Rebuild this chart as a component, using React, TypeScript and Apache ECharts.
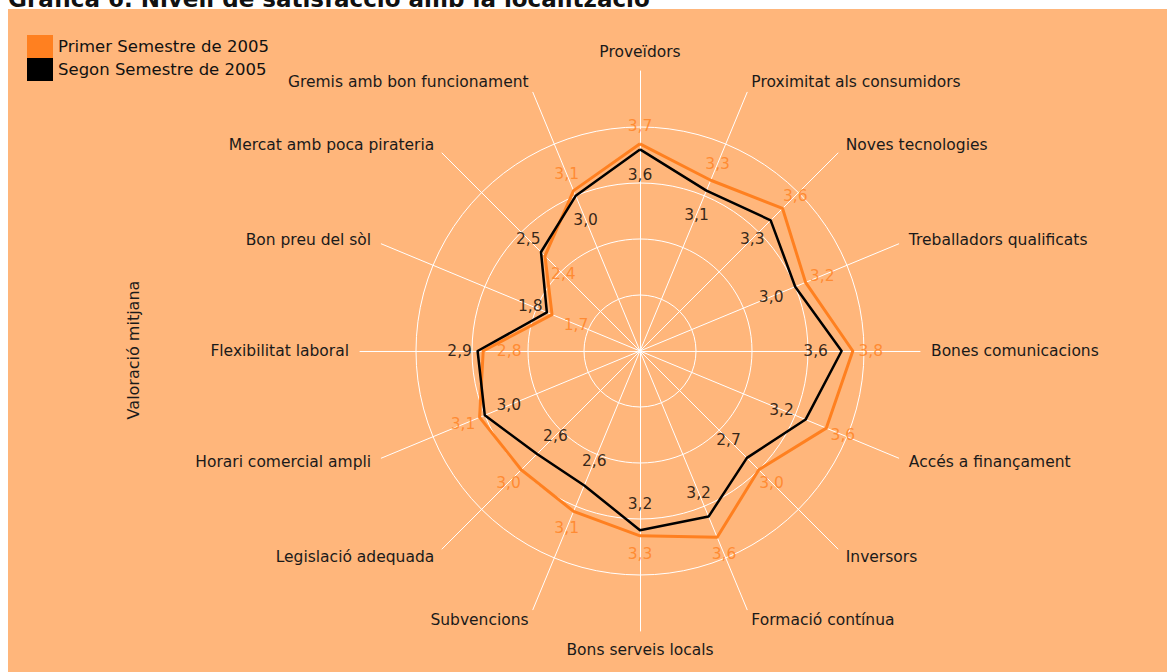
import React, { useEffect, useRef } from 'react';
import * as echarts from 'echarts';

const categories = [
  'Proveïdors',
  'Proximitat als consumidors',
  'Noves tecnologies',
  'Treballadors qualificats',
  'Bones comunicacions',
  'Accés a finançament',
  'Inversors',
  'Formació contínua',
  'Bons serveis locals',
  'Subvencions',
  'Legislació adequada',
  'Horari comercial ampli',
  'Flexibilitat laboral',
  'Bon preu del sòl',
  'Mercat amb poca pirateria',
  'Gremis amb bon funcionament',
];
const primer = [3.7, 3.3, 3.6, 3.2, 3.8, 3.6, 3.0, 3.6, 3.3, 3.1, 3.0, 3.1, 2.8, 1.7, 2.4, 3.1];
const segon = [3.6, 3.1, 3.3, 3.0, 3.6, 3.2, 2.7, 3.2, 3.2, 2.6, 2.6, 3.0, 2.9, 1.8, 2.5, 3.0];
const seriesNames = ['Primer Semestre de 2005', 'Segon Semestre de 2005'];
const titleText = 'Gràfica 6. Nivell de satisfacció amb la localització';
const axisTitle = 'Valoració mitjana';

const ORANGE = '#FF8020';
const BLACK = '#000000';
const BG = '#FFB67B';
const FONT = 'DejaVu Sans';

export default function App() {
  const ref = useRef<HTMLDivElement>(null);
  useEffect(() => {
    if (!ref.current) return;
    const chart = echarts.init(ref.current, null, { renderer: 'svg' });
    const n = categories.length;
    // radar draws counter-clockwise; the picture reads clockwise
    const ccw = categories.map((_, i) => (n - i) % n);
    const step = 360 / n;
    const fmt = (v: number) => v.toFixed(1).replace('.', ',');

    const labelSeries = (vals: number[], other: number[], color: string, name: string) => ({
      type: 'scatter',
      name: name + ' etiquetes',
      coordinateSystem: 'polar',
      symbolSize: 1,
      itemStyle: { color: 'rgba(0,0,0,0)' },
      silent: true,
      z: 5,
      label: {
        show: true,
        position: 'inside',
        color,
        fontSize: 15.5,
        fontFamily: FONT,
        formatter: (p: any) => fmt(p.value[0]),
      },
      data: vals.map((v, i) => {
        const th = (i * step * Math.PI) / 180;
        const d = v >= other[i] ? 18 : -26;
        return {
          value: [v, i * step],
          label: { offset: [Math.sin(th) * d, -Math.cos(th) * d] },
        };
      }),
    });

    chart.setOption({
      animation: false,
      backgroundColor: '#ffffff',
      graphic: [
        {
          type: 'text',
          x: 8,
          y: -1,
          z: -20,
          style: {
            text: titleText,
            fontSize: 23,
            fontWeight: 'bold',
            fontFamily: FONT,
            fill: '#111',
            verticalAlign: 'middle',
            align: 'left',
          },
        },
        {
          type: 'rect',
          z: -10,
          shape: { x: 8, y: 9, width: 1159, height: 663 },
          style: { fill: BG },
        },
        {
          type: 'text',
          x: 133,
          y: 350,
          rotation: Math.PI / 2,
          style: {
            text: axisTitle,
            fontSize: 16,
            fontFamily: FONT,
            fill: '#1a1a1a',
            align: 'center',
            verticalAlign: 'middle',
          },
        },
      ],
      legend: {
        data: seriesNames,
        orient: 'vertical',
        left: 27,
        top: 35,
        padding: 0,
        itemWidth: 26,
        itemHeight: 23,
        itemGap: 0,
        icon: 'rect',
        textStyle: { fontSize: 16.5, color: '#111', fontFamily: FONT },
        selectedMode: false,
      },
      radar: {
        center: [640, 351],
        radius: 280,
        startAngle: 90,
        shape: 'circle',
        splitNumber: 5,
        nameGap: 11,
        indicator: ccw.map((i) => ({ name: categories[i], min: 0, max: 5 })),
        axisName: { color: '#1a1a1a', fontSize: 15.5, fontFamily: FONT },
        splitLine: {
          lineStyle: {
            color: ['#ffffff', '#ffffff', '#ffffff', '#ffffff', '#ffffff', 'rgba(0,0,0,0)'],
            width: 1,
          },
        },
        splitArea: { show: false },
        axisLine: { lineStyle: { color: '#ffffff', width: 1 } },
        axisTick: { show: false },
        axisLabel: { show: false },
      },
      polar: { center: [640, 351], radius: 280 },
      angleAxis: {
        type: 'value',
        min: 0,
        max: 360,
        startAngle: 90,
        clockwise: true,
        show: false,
        axisLine: { show: false },
        axisTick: { show: false },
        axisLabel: { show: false },
        splitLine: { show: false },
      },
      radiusAxis: {
        type: 'value',
        min: 0,
        max: 5,
        show: false,
        axisLine: { show: false },
        axisTick: { show: false },
        axisLabel: { show: false },
        splitLine: { show: false },
      },
      series: [
        {
          type: 'radar',
          name: seriesNames[0],
          symbol: 'none',
          z: 2,
          itemStyle: { color: ORANGE },
          lineStyle: { color: ORANGE, width: 3 },
          data: [{ name: seriesNames[0], value: ccw.map((i) => primer[i]) }],
        },
        {
          type: 'radar',
          name: seriesNames[1],
          symbol: 'none',
          z: 3,
          itemStyle: { color: BLACK },
          lineStyle: { color: BLACK, width: 2.5 },
          data: [{ name: seriesNames[1], value: ccw.map((i) => segon[i]) }],
        },
        labelSeries(primer, segon, ORANGE, seriesNames[0]),
        labelSeries(segon, primer, BLACK, seriesNames[1]),
      ],
    });
    return () => chart.dispose();
  }, []);
  return (
    <div
      ref={ref}
      style={{ position: 'absolute', left: 0, top: 0, width: 1167, height: 672 }}
    />
  );
}
